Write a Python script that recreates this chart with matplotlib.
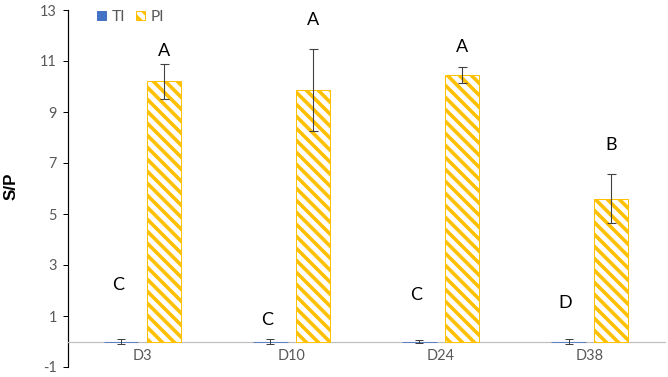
import matplotlib
matplotlib.use("Agg")
import matplotlib.pyplot as plt
import numpy as np
from matplotlib.patches import Patch

categories = ["D3", "D10", "D24", "D38"]
ti_values = [0.0, 0.0, 0.0, 0.0]
ti_errors = [0.08, 0.08, 0.06, 0.08]
pi_values = [10.2, 9.87, 10.45, 5.6]
pi_errors = [0.7, 1.6, 0.3, 0.95]
ti_letters = ["C", "C", "C", "D"]
ti_letter_y = [2.23, 0.85, 1.84, 1.52]
pi_letters = ["A", "A", "A", "B"]
pi_letter_y = [11.38, 12.6, 11.54, 7.71]
yticks = [-1, 1, 3, 5, 7, 9, 11, 13]

DPI = 72
plt.rcParams['hatch.linewidth'] = 3.6
plt.rcParams['font.family'] = ['Lato', 'DejaVu Sans']

fig = plt.figure(figsize=(668 / DPI, 377 / DPI), dpi=DPI)
ax = fig.add_axes([68 / 668, 10 / 377, (664.5 - 68) / 668, (367 - 10) / 377])

for s in ['top', 'right']:
    ax.spines[s].set_visible(False)
ax.spines['left'].set_color('black')
ax.spines['left'].set_linewidth(1.2)
ax.spines['bottom'].set_position(('data', 0))
ax.spines['bottom'].set_color('#BFBFBF')
ax.spines['bottom'].set_linewidth(1.2)

x = np.arange(len(categories))
w = 0.23
off = 0.143
blue = "#4472C4"
gold = "#FFC000"
errc = "#404040"

ax.bar(x - off, ti_values, w, color=blue, edgecolor=blue, linewidth=0.8, zorder=3)
ax.errorbar(x - off, ti_values, yerr=ti_errors, fmt='none', ecolor=errc,
            elinewidth=1, capsize=4, capthick=1, zorder=4)
ax.bar(x + off, pi_values, w, color="white", edgecolor=gold, hatch="\\\\",
       linewidth=1, zorder=3)
ax.errorbar(x + off, pi_values, yerr=pi_errors, fmt='none', ecolor=errc,
            elinewidth=1.1, capsize=4.5, capthick=1.1, zorder=4)

for i in range(len(categories)):
    ax.text(x[i] - off - 0.02, ti_letter_y[i], ti_letters[i], ha='center', va='center',
            fontsize=18, color='black')
    ax.text(x[i] + off, pi_letter_y[i], pi_letters[i], ha='center', va='center',
            fontsize=18, color='black')

ax.set_xlim(-0.5, len(categories) - 0.5)
ax.set_ylim(-1, 13)
ax.set_yticks(yticks)
ax.set_yticklabels([str(t) for t in yticks], fontsize=14.5, color="#595959")
ax.tick_params(axis='y', direction='out', length=5, width=1, color='black', pad=6)
ax.set_xticks(x)
ax.set_xticklabels(categories, fontsize=14.5, color="#595959")
ax.tick_params(axis='x', length=0, pad=7)

fig.text(11 / 668, 1 - 186 / 377, "S/P", rotation=90, ha='center', va='center',
         fontsize=17, fontweight='bold', family=['Liberation Sans', 'DejaVu Sans'])

handles = [Patch(facecolor=blue, edgecolor=blue, label="TI"),
           Patch(facecolor="white", edgecolor=gold, hatch="\\\\", label="PI")]
fig.legend(handles=handles, loc='center left', bbox_to_anchor=(97 / 668, 1 - 17 / 377),
           ncol=2, frameon=False, fontsize=15.5, labelcolor="#595959",
           handlelength=0.6, handleheight=0.6, handletextpad=0.35, columnspacing=0.7,
           borderpad=0, borderaxespad=0)

fig.savefig("out.png", dpi=DPI)
